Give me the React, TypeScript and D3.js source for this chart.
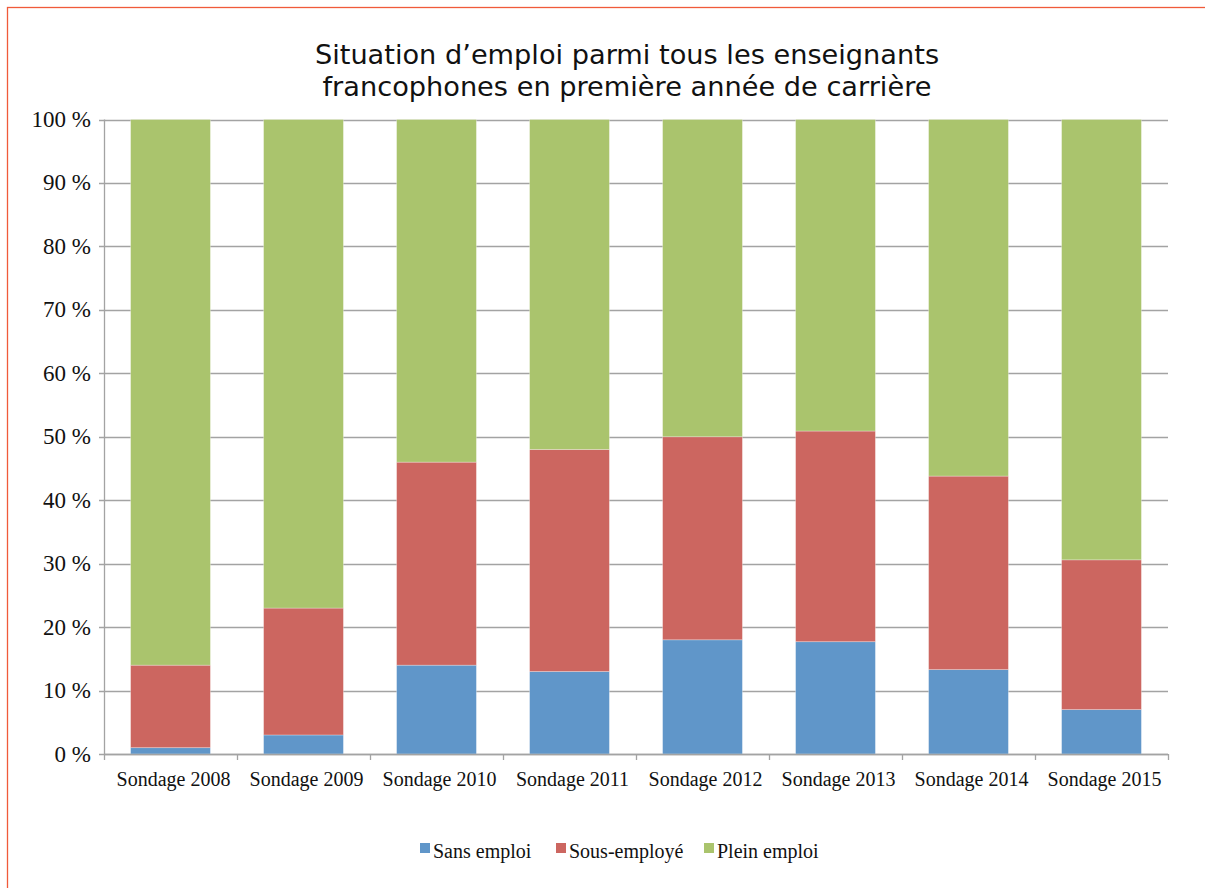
import React from "react";
import * as d3 from "d3";

const categories = ["Sondage 2008", "Sondage 2009", "Sondage 2010", "Sondage 2011", "Sondage 2012", "Sondage 2013", "Sondage 2014", "Sondage 2015"];
const sansEmploi = [1, 3, 14, 13, 18, 17.7, 13.3, 7];
const sousEmploye = [13, 20, 32, 35, 32, 33.2, 30.5, 23.6];
const pleinEmploi = [86, 77, 54, 52, 50, 49.1, 56.2, 69.4];
const seriesNames = ["Sans emploi", "Sous-employé", "Plein emploi"];
const seriesColors = ["#6096c9", "#cc6660", "#aac46d"];
const yTicks = [0, 10, 20, 30, 40, 50, 60, 70, 80, 90, 100];
const titleLines = ["Situation d\u2019emploi parmi tous les enseignants", "francophones en première année de carrière"];

const W = 1205;
const H = 888;
const M = { left: 104, right: 1168, top: 119.5, bottom: 754 };

export default function App() {
  const x = d3.scaleBand<string>().domain(categories).range([M.left, M.right]).paddingInner(0.4).paddingOuter(0.2);
  const y = d3.scaleLinear().domain([0, 100]).range([M.bottom, M.top]);
  const rows = categories.map((c, i) => ({ cat: c, s0: sansEmploi[i], s1: sousEmploye[i], s2: pleinEmploi[i] }));
  const stack = d3.stack<any>().keys(["s0", "s1", "s2"])(rows);
  const step = x.step();
  const boundaries = d3.range(categories.length + 1).map((i) => M.left + i * step);
  const serif = "'Liberation Serif', 'Times New Roman', serif";
  const legendX = [420, 556, 704];

  return (
    <svg width={W} height={H} style={{ position: "absolute", left: 0, top: 0, background: "#fff" }}>
      <rect x={0} y={0} width={W} height={H} fill="#fff" />
      <rect x={7.5} y={7.5} width={W + 20} height={H + 20} fill="none" stroke="#f05a3a" strokeWidth={1.3} />
      {titleLines.map((t, i) => (
        <text key={i} x={627} y={64 + i * 32} textAnchor="middle" fontFamily="'DejaVu Sans', Verdana, sans-serif" fontSize={27.2} fill="#111">
          {t}
        </text>
      ))}
      {yTicks.map((t) => (
        <g key={t}>
          <line x1={M.left - 5} x2={M.right} y1={Math.round(y(t)) + 0.5} y2={Math.round(y(t)) + 0.5} stroke="#a3a3a3" strokeWidth={1.3} />
          <text x={91} y={y(t) + 7.5} textAnchor="end" fontFamily={serif} fontSize={23} fill="#111">
            {t + "\u00a0%"}
          </text>
        </g>
      ))}
      {stack.map((layer, si) => (
        <g key={si} fill={seriesColors[si]}>
          {layer.map((d: any, i: number) => (
            <rect key={i} x={x(categories[i])!} width={x.bandwidth()} y={y(d[1])} height={y(d[0]) - y(d[1])} stroke="rgba(255,255,255,0.35)" strokeWidth={0.8} />
          ))}
        </g>
      ))}
      <line x1={M.left + 0.5} x2={M.left + 0.5} y1={M.top} y2={M.bottom} stroke="#a3a3a3" strokeWidth={1.3} />
      <line x1={M.left} x2={M.right} y1={M.bottom + 0.5} y2={M.bottom + 0.5} stroke="#a3a3a3" strokeWidth={1.3} />
      {boundaries.map((b, i) => (
        <line key={i} x1={b + 0.5} x2={b + 0.5} y1={M.bottom} y2={M.bottom + 6} stroke="#a3a3a3" strokeWidth={1.3} />
      ))}
      {categories.map((c) => (
        <text key={c} x={x(c)! + x.bandwidth() / 2 + 3} y={786} textAnchor="middle" fontFamily={serif} fontSize={20} fill="#111">
          {c}
        </text>
      ))}
      {seriesNames.map((n, i) => (
        <g key={n}>
          <rect x={legendX[i]} y={843} width={10} height={10} fill={seriesColors[i]} />
          <text x={legendX[i] + 13} y={858} fontFamily={serif} fontSize={20} fill="#111">
            {n}
          </text>
        </g>
      ))}
    </svg>
  );
}
